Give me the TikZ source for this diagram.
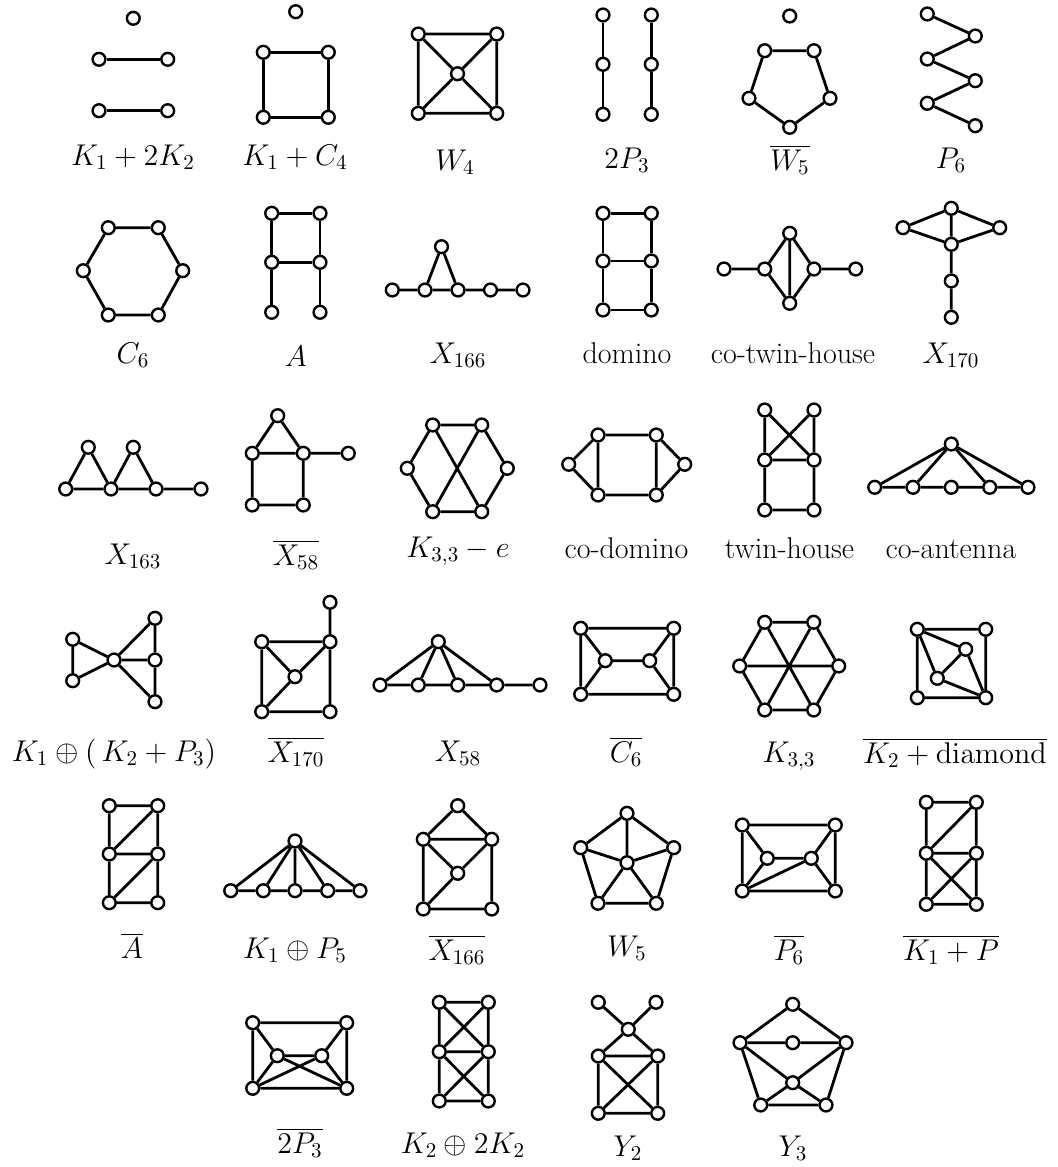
\RequirePackage{fix-cm}
\documentclass[tikz,border=0pt]{standalone}
\begin{document}
\begin{tikzpicture}[x=0.5pt,y=-0.5pt,
  vx/.style={circle,draw,line width=1.2pt,fill=white,minimum size=6.4pt,inner sep=0pt},
  ed/.style={line width=1.4pt},
  lab/.style={anchor=base,font=\fontsize{15}{18}\selectfont,inner sep=0pt}]
\newcommand\gv[3]{\node[vx] (#1) at (#2,#3) {};}
\useasboundingbox (0,0) rectangle (1058,1167);
% ---- Row 1
\gv{a0}{133.3}{18.3}\gv{a1}{99}{59.3}\gv{a2}{167.7}{59.3}\gv{a3}{99}{110.7}\gv{a4}{167.7}{110.7}
\draw[ed] (a1)--(a2) (a3)--(a4);
\node[lab] (la) at (133,165) {$K_1 + 2K_2$};
\gv{b0}{295.7}{11.7}\gv{b1}{263.3}{52.3}\gv{b2}{328.3}{52.3}\gv{b3}{263.3}{117.3}\gv{b4}{328.3}{117.3}
\draw[ed] (b1)--(b2) (b2)--(b4) (b4)--(b3) (b3)--(b1);
\node[lab] (lb) at (295,165) {$K_1 + C_4$};
\gv{c1}{418.3}{34}\gv{c2}{496.7}{34}\gv{c3}{418.3}{113.3}\gv{c4}{496.7}{113.3}\gv{c0}{457.5}{73.7}
\draw[ed] (c1)--(c2) (c2)--(c4) (c4)--(c3) (c3)--(c1) (c0)--(c1) (c0)--(c2) (c0)--(c3) (c0)--(c4);
\node[lab] (lc) at (455,170) {$W_4$};
\gv{d1}{603}{15}\gv{d2}{603}{64.3}\gv{d3}{603}{114.3}\gv{d4}{651.3}{15}\gv{d5}{651.3}{64.3}\gv{d6}{651.3}{114.3}
\draw[ed] (d1)--(d2) (d2)--(d3) (d4)--(d5) (d5)--(d6);
\node[lab] (ld) at (627,168) {$2P_3$};
\gv{e0}{789.7}{16}\gv{e1}{764.7}{50.7}\gv{e2}{814}{50.7}\gv{e3}{749}{98.3}\gv{e4}{830}{98.3}\gv{e5}{789.7}{127.3}
\draw[ed] (e1)--(e2) (e1)--(e3) (e2)--(e4) (e3)--(e5) (e4)--(e5);
\node[lab] (le) at (790,170) {$\overline{W_5}$};
\gv{f1}{927.3}{14}\gv{f2}{975.3}{36}\gv{f3}{927.3}{59}\gv{f4}{975.3}{80.7}\gv{f5}{927.3}{103.3}\gv{f6}{975.3}{125.7}
\draw[ed] (f1)--(f2) (f2)--(f3) (f3)--(f4) (f4)--(f5) (f5)--(f6);
\node[lab] (lf) at (951,168) {$P_6$};
% ---- Row 2
\gv{g1}{108.3}{227.7}\gv{g2}{158.3}{227.7}\gv{g3}{182.7}{270.7}\gv{g4}{158.3}{315}\gv{g5}{108.3}{315}\gv{g6}{83.3}{270.7}
\draw[ed] (g1)--(g2) (g2)--(g3) (g3)--(g4) (g4)--(g5) (g5)--(g6) (g6)--(g1);
\node[lab] (lg) at (133,363) {$C_6$};
\gv{h1}{271.7}{213.3}\gv{h2}{320}{213.3}\gv{h3}{271.7}{262.3}\gv{h4}{320}{262.3}\gv{h5}{271.7}{312.3}\gv{h6}{320}{312.3}
\draw[ed] (h1)--(h2) (h1)--(h3) (h2)--(h4) (h3)--(h4) (h3)--(h5) (h4)--(h6);
\node[lab] (lh) at (296,366) {$A$};
\gv{i1}{392.3}{290}\gv{i2}{425}{290}\gv{i3}{458}{290}\gv{i4}{490.5}{290}\gv{i5}{523}{290}\gv{i0}{441.5}{246.7}
\draw[ed] (i1)--(i2) (i2)--(i3) (i3)--(i4) (i4)--(i5) (i0)--(i2) (i0)--(i3);
\node[lab] (li) at (458,363) {$X_{166}$};
\gv{j1}{603}{213.3}\gv{j2}{651.3}{213.3}\gv{j3}{603}{261}\gv{j4}{651.3}{261}\gv{j5}{603}{310}\gv{j6}{651.3}{310}
\draw[ed] (j1)--(j2) (j3)--(j4) (j5)--(j6) (j1)--(j3) (j3)--(j5) (j2)--(j4) (j4)--(j6);
\node[lab] (lj) at (627,363) {domino};
\gv{k1}{724}{269}\gv{k2}{764.7}{269}\gv{k3}{789.7}{233.3}\gv{k4}{789.7}{303.3}\gv{k5}{814}{269}\gv{k6}{855.7}{269}
\draw[ed] (k1)--(k2) (k2)--(k3) (k2)--(k4) (k3)--(k4) (k3)--(k5) (k4)--(k5) (k5)--(k6);
\node[lab] (lk) at (793,363) {co-twin-house};
\gv{l1}{951.3}{208.3}\gv{l2}{903}{227.7}\gv{l3}{999.7}{227.7}\gv{l4}{951.3}{244.3}\gv{l5}{951.3}{281}\gv{l6}{951.3}{317.3}
\draw[ed] (l2)--(l1) (l1)--(l3) (l2)--(l4) (l3)--(l4) (l1)--(l4) (l4)--(l5) (l5)--(l6);
\node[lab] (ll) at (951,363) {$X_{170}$};
% ---- Row 3
\gv{m1}{65.7}{489}\gv{m2}{111}{489}\gv{m3}{156}{489}\gv{m4}{201}{489}\gv{m5}{88.3}{447.3}\gv{m6}{133.3}{447.3}
\draw[ed] (m1)--(m2) (m2)--(m3) (m3)--(m4) (m1)--(m5) (m5)--(m2) (m2)--(m6) (m6)--(m3);
\node[lab] (lm) at (133,564) {$X_{163}$};
\gv{n1}{277.7}{415.7}\gv{n2}{252.3}{453.3}\gv{n3}{303.3}{453.3}\gv{n4}{348.3}{453.3}\gv{n5}{252.3}{505}\gv{n6}{303.3}{505}
\draw[ed] (n1)--(n2) (n1)--(n3) (n2)--(n3) (n3)--(n4) (n2)--(n5) (n3)--(n6) (n5)--(n6);
\node[lab] (ln) at (296,565) {$\overline{X_{58}}$};
\gv{o1}{432.7}{425}\gv{o2}{481.7}{425}\gv{o3}{407.3}{468.3}\gv{o4}{507.3}{468.3}\gv{o5}{432.7}{511.7}\gv{o6}{481.7}{511.7}
\draw[ed] (o1)--(o2) (o1)--(o3) (o3)--(o5) (o5)--(o6) (o2)--(o4) (o4)--(o6) (o1)--(o6) (o2)--(o5);
\node[lab] (lo) at (458,557) {$K_{3,3} - e$};
\gv{p1}{598}{435}\gv{p2}{656.3}{435}\gv{p3}{568.7}{464.3}\gv{p4}{684.7}{464.3}\gv{p5}{598}{495}\gv{p6}{656.3}{495}
\draw[ed] (p1)--(p2) (p5)--(p6) (p3)--(p1) (p3)--(p5) (p1)--(p5) (p2)--(p6) (p2)--(p4) (p6)--(p4);
\node[lab] (lp) at (626.5,558) {co-domino};
\gv{q1}{764.7}{410}\gv{q2}{814}{410}\gv{q3}{764.7}{460}\gv{q4}{814}{460}\gv{q5}{764.7}{510}\gv{q6}{814}{510}
\draw[ed] (q1)--(q3) (q2)--(q4) (q1)--(q4) (q2)--(q3) (q3)--(q4) (q3)--(q5) (q4)--(q6) (q5)--(q6);
\node[lab] (lq) at (789.5,558) {twin-house};
\gv{r0}{951.3}{444}\gv{r1}{874.7}{487.3}\gv{r2}{913}{487.3}\gv{r3}{951.3}{487.3}\gv{r4}{989.7}{487.3}\gv{r5}{1028}{487.3}
\draw[ed] (r1)--(r2) (r2)--(r3) (r3)--(r4) (r4)--(r5) (r0)--(r1) (r0)--(r2) (r0)--(r4) (r0)--(r5);
\node[lab] (lr) at (951,558) {co-antenna};
% ---- Row 4
\gv{s1}{72.7}{639.3}\gv{s2}{72.7}{680.7}\gv{s0}{114}{660}\gv{s3}{155}{618.3}\gv{s4}{155}{660}\gv{s5}{155}{701.7}
\draw[ed] (s1)--(s2) (s1)--(s0) (s2)--(s0) (s0)--(s3) (s0)--(s4) (s0)--(s5) (s3)--(s4) (s4)--(s5);
\node[lab] (ls) at (114,761) {$K_1 \oplus (\,K_2 + P_3)$};
\gv{t0}{330}{602.3}\gv{t1}{261.7}{641.7}\gv{t2}{330}{641.7}\gv{t3}{295}{676.7}\gv{t4}{261.7}{711.7}\gv{t5}{330}{711.7}
\draw[ed] (t0)--(t2) (t1)--(t2) (t1)--(t3) (t1)--(t4) (t3)--(t2) (t3)--(t4) (t2)--(t5) (t4)--(t5);
\node[lab] (lt) at (296,762) {$\overline{X_{170}}$};
\gv{u0}{438.3}{641.7}\gv{u1}{380}{685}\gv{u2}{418.3}{685}\gv{u3}{457.7}{685}\gv{u4}{496.7}{685}\gv{u5}{540}{685}
\draw[ed] (u1)--(u2) (u2)--(u3) (u3)--(u4) (u4)--(u5) (u0)--(u1) (u0)--(u2) (u0)--(u3) (u0)--(u4);
\node[lab] (lu) at (458,761) {$X_{58}$};
\gv{v1}{580.7}{628.3}\gv{v2}{673.7}{628.3}\gv{v3}{605.3}{660.7}\gv{v4}{649.7}{660.7}\gv{v5}{580.7}{694.3}\gv{v6}{673.7}{694.3}
\draw[ed] (v1)--(v2) (v5)--(v6) (v1)--(v5) (v2)--(v6) (v1)--(v3) (v5)--(v3) (v3)--(v4) (v2)--(v4) (v6)--(v4);
\node[lab] (lv) at (626,762) {$\overline{C_6}$};
\gv{w1}{764.7}{622.3}\gv{w2}{813.7}{622.3}\gv{w3}{739.7}{666}\gv{w4}{838.7}{666}\gv{w5}{764.7}{710}\gv{w6}{813.7}{710}
\draw[ed] (w1)--(w2) (w2)--(w4) (w4)--(w6) (w6)--(w5) (w5)--(w3) (w3)--(w1) (w1)--(w6) (w2)--(w5) (w3)--(w4);
\node[lab] (lw) at (789,762) {$K_{3,3}$};
\gv{x1}{917.3}{629.3}\gv{x2}{985.7}{629.3}\gv{x3}{965.7}{649.3}\gv{x4}{937.3}{678.3}\gv{x5}{917.3}{697.7}\gv{x6}{985.7}{697.7}
\draw[ed] (x1)--(x2) (x1)--(x5) (x2)--(x6) (x5)--(x6) (x1)--(x3) (x1)--(x4) (x3)--(x4) (x3)--(x6) (x4)--(x6);
\node[lab] (lx) at (955,763) {$\overline{K_2 + \mathrm{diamond}}$};
% ---- Row 5
\gv{y1}{109.3}{805.7}\gv{y2}{157.7}{805.7}\gv{y3}{109.3}{854}\gv{y4}{157.7}{854}\gv{y5}{109.3}{902.7}\gv{y6}{157.7}{902.7}
\draw[ed] (y1)--(y2) (y1)--(y3) (y2)--(y4) (y2)--(y3) (y3)--(y4) (y3)--(y5) (y4)--(y6) (y4)--(y5) (y5)--(y6);
\node[lab] (ly) at (132,958) {$\overline{A}$};
\gv{z0}{295}{841}\gv{z1}{230.7}{890.7}\gv{z2}{263.3}{890.7}\gv{z3}{295}{890.7}\gv{z4}{327.7}{890.7}\gv{z5}{360}{890.7}
\draw[ed] (z1)--(z2) (z2)--(z3) (z3)--(z4) (z4)--(z5) (z0)--(z1) (z0)--(z2) (z0)--(z3) (z0)--(z4) (z0)--(z5);
\node[lab] (lz) at (295,958) {$K_1 \oplus P_5$};
\gv{aa0}{457.7}{805.7}\gv{aa1}{423.3}{839.3}\gv{aa2}{491.7}{839.3}\gv{aa3}{457.7}{873.3}\gv{aa4}{423.3}{909}\gv{aa5}{491.7}{909}
\draw[ed] (aa0)--(aa1) (aa0)--(aa2) (aa1)--(aa2) (aa1)--(aa3) (aa2)--(aa3) (aa1)--(aa4) (aa2)--(aa5) (aa3)--(aa4) (aa4)--(aa5);
\node[lab] (laa) at (457,960) {$\overline{X_{166}}$};
\gv{ab0}{627}{813.3}\gv{ab1}{580.7}{847.7}\gv{ab2}{673.7}{847.7}\gv{ab3}{598}{903.3}\gv{ab4}{656.3}{903.3}\gv{ab5}{627}{862.7}
\draw[ed] (ab0)--(ab1) (ab0)--(ab2) (ab1)--(ab3) (ab2)--(ab4) (ab3)--(ab4) (ab5)--(ab0) (ab5)--(ab1) (ab5)--(ab2) (ab5)--(ab3) (ab5)--(ab4);
\node[lab] (lab5) at (627,956) {$W_5$};
\gv{ac1}{742.3}{825}\gv{ac2}{835.3}{825}\gv{ac3}{767.3}{858.3}\gv{ac4}{811.3}{858.3}\gv{ac5}{742.3}{891}\gv{ac6}{835.3}{891}
\draw[ed] (ac1)--(ac2) (ac1)--(ac5) (ac2)--(ac6) (ac5)--(ac6) (ac1)--(ac3) (ac3)--(ac4) (ac4)--(ac2) (ac4)--(ac6) (ac5)--(ac3) (ac5)--(ac4);
\node[lab] (lac) at (789,960) {$\overline{P_6}$};
\gv{ad1}{926.3}{802.3}\gv{ad2}{976.3}{802.3}\gv{ad3}{926.3}{853.3}\gv{ad4}{976.3}{853.3}\gv{ad5}{926.3}{904.3}\gv{ad6}{976.3}{904.3}
\draw[ed] (ad1)--(ad2) (ad1)--(ad3) (ad2)--(ad4) (ad2)--(ad3) (ad3)--(ad4) (ad3)--(ad5) (ad4)--(ad6) (ad3)--(ad6) (ad4)--(ad5) (ad5)--(ad6);
\node[lab] (lad) at (951,960) {$\overline{K_1 + P}$};
% ---- Row 6
\gv{ae1}{252.7}{1022.7}\gv{ae2}{346.7}{1022.7}\gv{ae3}{277.3}{1055.7}\gv{ae4}{321.7}{1055.7}\gv{ae5}{252.7}{1088.3}\gv{ae6}{346.7}{1088.3}
\draw[ed] (ae1)--(ae2) (ae1)--(ae5) (ae2)--(ae6) (ae5)--(ae6) (ae1)--(ae3) (ae2)--(ae4) (ae3)--(ae4) (ae3)--(ae5) (ae4)--(ae6) (ae3)--(ae6) (ae4)--(ae5);
\node[lab] (lae) at (300,1153) {$\overline{2P_3}$};
\gv{af1}{439.3}{1002.3}\gv{af2}{488.3}{1002.3}\gv{af3}{439.3}{1051.7}\gv{af4}{488.3}{1051.7}\gv{af5}{439.3}{1101}\gv{af6}{488.3}{1101}
\draw[ed] (af1)--(af2) (af1)--(af3) (af2)--(af4) (af1)--(af4) (af2)--(af3) (af3)--(af4) (af3)--(af5) (af4)--(af6) (af3)--(af6) (af4)--(af5) (af5)--(af6);
\node[lab] (laf) at (463,1153) {$K_2 \oplus 2K_2$};
\gv{ag1}{598.3}{1002.3}\gv{ag2}{656}{1002.3}\gv{ag0}{628.3}{1029.3}\gv{ag3}{598.3}{1056}\gv{ag4}{657.7}{1056}\gv{ag5}{598.3}{1113.3}\gv{ag6}{657.7}{1113.3}
\draw[ed] (ag1)--(ag0) (ag2)--(ag0) (ag0)--(ag3) (ag0)--(ag4) (ag3)--(ag4) (ag3)--(ag5) (ag4)--(ag6) (ag3)--(ag6) (ag4)--(ag5) (ag5)--(ag6);
\node[lab] (lag) at (628,1156) {$Y_2$};
\gv{ah0}{792.7}{1004.3}\gv{ah1}{740}{1042.7}\gv{ah2}{792.7}{1042.7}\gv{ah3}{846}{1042.7}\gv{ah4}{792.7}{1082.7}\gv{ah5}{760.7}{1105}\gv{ah6}{826}{1105}
\draw[ed] (ah0)--(ah1) (ah0)--(ah3) (ah1)--(ah2) (ah2)--(ah3) (ah1)--(ah4) (ah3)--(ah4) (ah1)--(ah5) (ah3)--(ah6) (ah4)--(ah5) (ah4)--(ah6) (ah5)--(ah6);
\node[lab] (lah) at (793,1156) {$Y_3$};
\end{tikzpicture}
\end{document}
